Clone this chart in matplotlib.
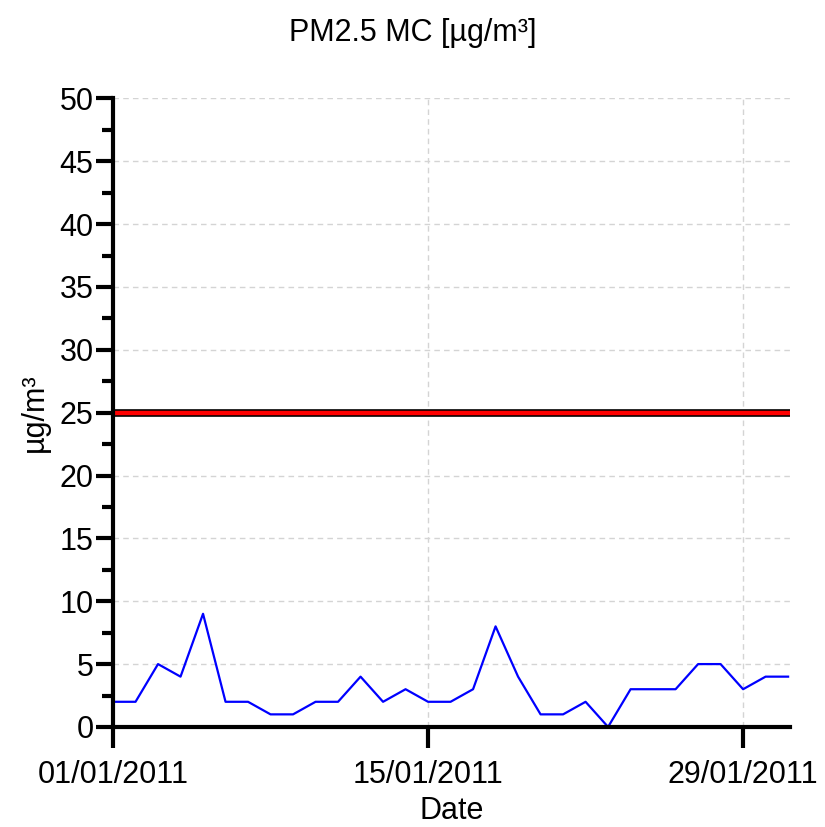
import matplotlib
matplotlib.use("Agg")
import matplotlib.pyplot as plt
import matplotlib.dates as mdates
import numpy as np
import pandas as pd

plt.rcParams['font.family'] = ['Liberation Sans', 'DejaVu Sans']

dates = pd.date_range("2011-01-01", "2011-01-31", freq="D")
pm25 = [2, 2, 5, 4, 9, 2, 2, 1, 1, 2, 2, 4, 2, 3, 2,
        2, 3, 8, 4, 1, 1, 2, 0, 3, 3, 3, 5, 5, 3, 4, 4]
limit = 25
tick_dates = ["2011-01-01", "2011-01-15", "2011-01-29"]

fig = plt.figure(figsize=(8.25, 8.27), dpi=100)
ax = fig.add_axes([0.137, 0.121, 0.821, 0.760])

x0 = mdates.date2num(dates[0])
x1 = mdates.date2num(dates[-1]) + 0.1

# threshold line: black border, red core
ax.plot([x0, x1], [limit, limit], color='black', lw=5.5, solid_capstyle='butt', zorder=3)
ax.plot([x0, x1], [limit, limit], color='red', lw=3.2, solid_capstyle='butt', zorder=4)
ax.plot(mdates.date2num(dates), pm25, color='blue', lw=1.6, zorder=5)

ax.set_xlim(x0, x1)
ax.set_ylim(0, 50)
ax.set_yticks(np.arange(0, 51, 5))
ax.set_yticks(np.arange(2.5, 50, 5), minor=True)
ax.set_xticks(mdates.date2num(pd.to_datetime(tick_dates)))
ax.xaxis.set_major_formatter(mdates.DateFormatter("%d/%m/%Y"))

ax.grid(True, which='major', color='#d4d4d4', linestyle=(0, (4, 3)), lw=1.0, zorder=6)
ax.set_axisbelow(False)

for s in ['top', 'right']:
    ax.spines[s].set_visible(False)
for s in ['left', 'bottom']:
    ax.spines[s].set_linewidth(3.0)
    ax.spines[s].set_zorder(7)

ax.tick_params(axis='both', which='major', width=3.0, labelsize=22)
ax.tick_params(axis='y', which='major', length=12, pad=2)
ax.tick_params(axis='y', which='minor', length=8, width=3.0)
ax.tick_params(axis='x', which='major', length=15, pad=9)

ax.set_xlabel("Date", fontsize=22, labelpad=4)
ax.set_ylabel("µg/m³", fontsize=22, labelpad=7)
fig.suptitle("PM2.5 MC [µg/m³]", fontsize=22, y=0.978)

fig.savefig("out.png", dpi=100)
